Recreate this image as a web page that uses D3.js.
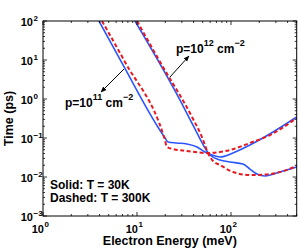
<!DOCTYPE html>
<html>
<head>
<meta charset="utf-8">
<script src="https://cdn.jsdelivr.net/npm/d3@7"></script>
<style>
  body { margin: 0; background: #fff; }
  text { font-family: "Liberation Sans", Arial, Helvetica, sans-serif; font-weight: bold; }
</style>
</head>
<body>
<svg id="chart" width="299" height="249"></svg>
<script>
// values: [energy (meV), time (ps)]
const p11Solid = [[3.94, 100], [7.10, 7.45], [19.9, 0.1], [21.4, 0.0788], [26.6, 0.0745], [34.0, 0.0702],
  [43.5, 0.0588], [52.9, 0.0437], [62.8, 0.0366], [76.3, 0.0326], [105, 0.0412], [159, 0.0662],
  [280, 0.1426], [500, 0.345]];
const p11Dashed = [[4.24, 100], [7.45, 8.9], [19.4, 0.106], [20.9, 0.0588], [24.1, 0.0522], [34.0, 0.0464],
  [55.6, 0.0412], [76.3, 0.0437], [97.5, 0.0492], [159, 0.0745], [260, 0.119], [500, 0.326]];
const p12Solid = [[9.52, 100], [28.7, 0.94], [39.4, 0.215], [59.8, 0.0366], [76.3, 0.0273], [97.5, 0.0243],
  [134, 0.0215], [159, 0.016], [189, 0.0119], [230, 0.0106], [332, 0.0134], [500, 0.018]];
const p12Dashed = [[10, 100], [17.6, 8.9], [38.5, 0.345], [49.1, 0.106], [56.9, 0.0412], [64.4, 0.0257],
  [76.3, 0.0203], [105, 0.0134], [159, 0.0112], [260, 0.0119], [500, 0.0191]];

const xTickExps = [0, 1, 2];
const yTickExps = [-3, -2, -1, 0, 1, 2];

const svg = d3.select('#chart');
const plotL = 43, plotR = 296.7, plotT = 21, plotB = 216;

const x = d3.scaleLog().domain([1, 500]).range([plotL, plotR]);
const y = d3.scaleLog().domain([1e-3, 1e2]).range([plotB, plotT]);

svg.append('clipPath').attr('id', 'plotClip')
  .append('rect').attr('x', plotL).attr('y', plotT).attr('width', plotR - plotL).attr('height', plotB - plotT);

const line = d3.line()
  .x(d => x(d[0]))
  .y(d => y(d[1]))
  .curve(d3.curveMonotoneX);

const curves = svg.append('g').attr('clip-path', 'url(#plotClip)');
const series = [
  { data: p11Solid, dashed: false },
  { data: p12Solid, dashed: false },
  { data: p11Dashed, dashed: true },
  { data: p12Dashed, dashed: true }
];
series.forEach(s => {
  curves.append('path')
    .attr('d', line(s.data))
    .attr('fill', 'none')
    .attr('stroke', s.dashed ? '#e8191e' : '#2b55ff')
    .attr('stroke-width', s.dashed ? 2 : 1.6)
    .attr('stroke-dasharray', s.dashed ? '4,2.5' : null);
});

// ticks on all four sides, pointing in
const ticks = svg.append('g').attr('stroke', '#000').attr('stroke-width', 0.8);
const xMinor = [], yMinor = [];
for (let k = 0; k <= 2; k++) for (let m = 2; m <= 9; m++) if (m * 10 ** k <= 500) xMinor.push(m * 10 ** k);
for (let k = -3; k <= 1; k++) for (let m = 2; m <= 9; m++) yMinor.push(m * 10 ** k);

xTickExps.map(e => 10 ** e).forEach(v => {
  ticks.append('line').attr('x1', x(v)).attr('x2', x(v)).attr('y1', plotB).attr('y2', plotB - 4);
  ticks.append('line').attr('x1', x(v)).attr('x2', x(v)).attr('y1', plotT).attr('y2', plotT + 4);
});
xMinor.forEach(v => {
  ticks.append('line').attr('x1', x(v)).attr('x2', x(v)).attr('y1', plotB).attr('y2', plotB - 2);
  ticks.append('line').attr('x1', x(v)).attr('x2', x(v)).attr('y1', plotT).attr('y2', plotT + 2);
});
yTickExps.map(e => 10 ** e).forEach(v => {
  ticks.append('line').attr('y1', y(v)).attr('y2', y(v)).attr('x1', plotL).attr('x2', plotL + 4);
  ticks.append('line').attr('y1', y(v)).attr('y2', y(v)).attr('x1', plotR).attr('x2', plotR - 4);
});
yMinor.forEach(v => {
  ticks.append('line').attr('y1', y(v)).attr('y2', y(v)).attr('x1', plotL).attr('x2', plotL + 2);
  ticks.append('line').attr('y1', y(v)).attr('y2', y(v)).attr('x1', plotR).attr('x2', plotR - 2);
});

svg.append('rect')
  .attr('x', plotL).attr('y', plotT).attr('width', plotR - plotL).attr('height', plotB - plotT)
  .attr('fill', 'none').attr('stroke', '#000').attr('stroke-width', 1);

const expText = e => (e < 0 ? '\u2212' + (-e) : String(e));

// y tick labels
yTickExps.forEach(e => {
  const py = y(10 ** e);
  svg.append('text').attr('x', 33).attr('y', py + 5).attr('text-anchor', 'end')
    .attr('font-size', 11).text('10');
  svg.append('text').attr('x', 33.5).attr('y', py - 0.5)
    .attr('font-size', 8).text(expText(e));
});

// x tick labels
xTickExps.forEach(e => {
  const px = x(10 ** e);
  svg.append('text').attr('x', px + 1).attr('y', 233).attr('text-anchor', 'end')
    .attr('font-size', 11).text('10');
  svg.append('text').attr('x', px + 1.5).attr('y', 227)
    .attr('font-size', 8).text(expText(e));
});

svg.append('text').attr('x', (plotL + plotR) / 2).attr('y', 245).attr('text-anchor', 'middle')
  .attr('font-size', 12.5).text('Electron Energy (meV)');

svg.append('text').attr('transform', `translate(13,${(plotT + plotB) / 2}) rotate(-90)`)
  .attr('text-anchor', 'middle').attr('font-size', 12.5).text('Time (ps)');

// annotations
function density(px, py, exp) {
  const t = svg.append('text').attr('x', px).attr('y', py).attr('font-size', 12);
  t.append('tspan').text('p=10');
  t.append('tspan').attr('font-size', 9).attr('dy', -7).text(exp);
  t.append('tspan').attr('dy', 7).text(' cm');
  t.append('tspan').attr('font-size', 9).attr('dy', -7).text('\u22122');
}
density(65, 107, '11');
density(176, 53, '12');

svg.append('defs').append('marker')
  .attr('id', 'head').attr('viewBox', '0 0 10 10').attr('refX', 9).attr('refY', 5)
  .attr('markerWidth', 6).attr('markerHeight', 6).attr('orient', 'auto')
  .append('path').attr('d', 'M0,1L10,5L0,9Z').attr('fill', '#000');

[[124, 69, 101, 92], [170, 77, 189, 56]].forEach(a => {
  svg.append('line').attr('x1', a[0]).attr('y1', a[1]).attr('x2', a[2]).attr('y2', a[3])
    .attr('stroke', '#000').attr('stroke-width', 1).attr('marker-end', 'url(#head)');
});

svg.append('text').attr('x', 50).attr('y', 189).attr('font-size', 12).text('Solid: T = 30K');
svg.append('text').attr('x', 50).attr('y', 202).attr('font-size', 12).text('Dashed: T = 300K');
</script>
</body>
</html>
